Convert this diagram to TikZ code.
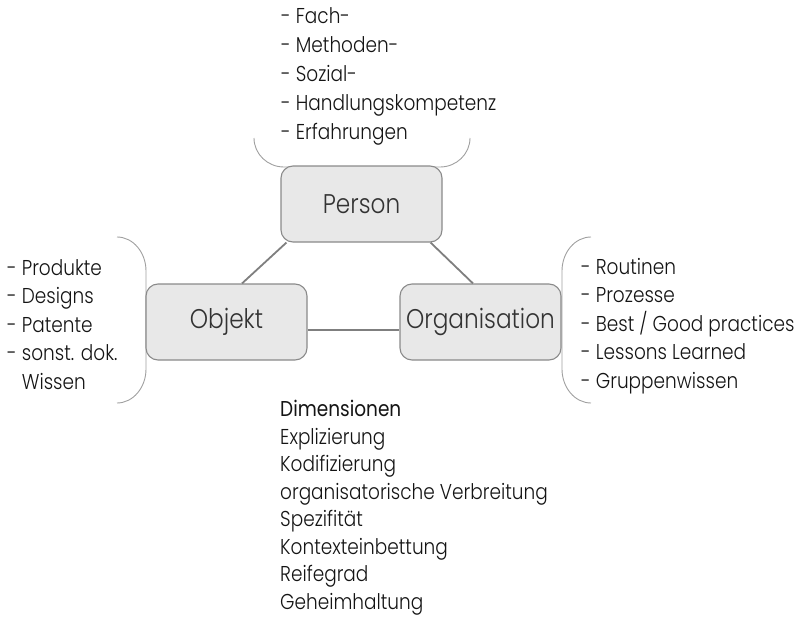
\documentclass[tikz,border=0pt]{standalone}
\usepackage{fontspec}
\setmainfont{Poppins}[UprightFont=* Light, FakeStretch=0.86]
\begin{document}
\begin{tikzpicture}[x=1pt, y=-1pt,
  box/.style={draw=boxline, fill=boxfill, line width=1.1pt, rounded corners=12pt,
    minimum width=161pt, minimum height=76pt, inner sep=0pt, text=boxtext,
    font=\fontsize{27}{32}\selectfont},
  link/.style={draw=linkgray, line width=1.8pt},
  brace/.style={draw=bracegray, line width=0.9pt},
  list/.style={anchor=north west, align=left, inner sep=0pt, text=listtext,
    font=\fontsize{21.5}{28.5}\selectfont}]
\definecolor{boxfill}{HTML}{E8E8E8}
\definecolor{boxline}{HTML}{8A8A8A}
\definecolor{boxtext}{HTML}{333333}
\definecolor{linkgray}{HTML}{7F7F7F}
\definecolor{bracegray}{HTML}{A0A0A0}
\definecolor{listtext}{HTML}{141414}
\useasboundingbox (0,0) rectangle (812,618);

% brackets around the three dimensions
\draw[brace] (254,138) .. controls (254,154) and (267.5,167) .. (284,167) -- (440,167)
  .. controls (456.5,167) and (470,154) .. (470,138);
\draw[brace] (117,237) .. controls (133,237) and (146,252.3) .. (146,271) -- (146,369)
  .. controls (146,387.7) and (133,403) .. (117,403);
\draw[brace] (591,237) .. controls (575,237) and (562,252.3) .. (562,271) -- (562,369)
  .. controls (562,387.7) and (575,403) .. (591,403);

% the three knowledge carriers
\node[box] (person) at (361.5,204) {\raisebox{-3pt}{Person}};
\node[box] (objekt) at (226.5,322) {\raisebox{-3pt}{Objekt}};
\node[box] (org) at (480.5,322) {\raisebox{-3pt}{Organisation}};

\draw[link] ([xshift=6pt]person.south west) -- ([xshift=15.5pt]objekt.north);
\draw[link] ([xshift=-12pt]person.south east) -- ([xshift=-7.5pt]org.north);
\draw[link] ([yshift=-8pt]objekt.east) -- ([yshift=-8pt]org.west);

% attached lists
\node[list, font=\fontsize{21.5}{29.2}\selectfont] (kompetenz) at (281,7)
  {- Fach-\\- Methoden-\\- Sozial-\\- Handlungskompetenz\\- Erfahrungen};
\node[list] (objlist) at (7,259) {- Produkte\\- Designs\\- Patente\\- sonst. dok.\\\phantom{- }Wissen};
\node[list] (orglist) at (581,258) {- Routinen\\- Prozesse\\- Best / Good practices\\- Lessons Learned\\- Gruppenwissen};
\node[list, font=\fontsize{21.5}{27.5}\selectfont] (dims) at (280,400)
  {{\fontspec{Poppins}[FakeStretch=0.86]Dimensionen}\\Explizierung\\Kodifizierung\\organisatorische Verbreitung\\Spezifität\\Kontexteinbettung\\Reifegrad\\Geheimhaltung};
\end{tikzpicture}
\end{document}
